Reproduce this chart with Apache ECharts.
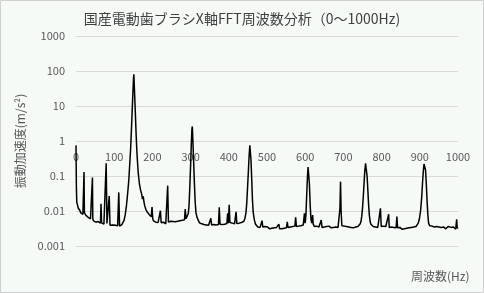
<!DOCTYPE html>
<html><head><meta charset="utf-8">
<script src="https://cdn.jsdelivr.net/npm/echarts@6/dist/echarts.min.js"></script>
<style>html,body{margin:0;padding:0;background:#f5faf7}#c{width:484px;height:293px}</style>
</head><body><div id="c"></div>
<script>
const titleText = '国産電動歯ブラシX軸FFT周波数分析（0～1000Hz)';
const yName = '振動加速度(m/s²)';
const xName = '周波数(Hz)';
const xTicks = [0,100,200,300,400,500,600,700,800,900,1000];
const yTicks = [0.001,0.01,0.1,1,10,100,1000];
const freq = [0,1,2,4,6,8,10,12,14,16,18,20,21,22,24,26,28,30,32,34,36,38,40,42,43,44,46,48,50,52,54,56,58,60,62,64,65.5,67,69,71,73,75,77,79,81,83,85,87,89,91,94,97,100,103,106,109,112,114,117,120,123,126,129,132,135,138,141,143,145,147,149,150.5,151.5,153,155,157,159,161,163,166,169,172,174,176,178,180,183,186,189,192,195,197,199,201,203,206,209,212,215,218,221,223,226,229,232,235,238,240,242,245,248,251,254,257,260,263,266,269,272,275,278,281,284,286,288,291,294,296,298,300,302,303.5,304.5,306,308,310,312,314,317,320,323,326,329,332,335,338,341,344,347,350,353,355,358,361,364,367,370,373,375,377,380,383,386,389,392,395,397,399,401,403,406,409,412,415,417,419,421,424,427,430,433,436,439,442,445,447,449,451,453,455,456,458,460,462,464,467,470,473,476,479,482,485,487,489,492,495,498,501,504,507,510,513,516,519,522,525,528,531,533,536,539,542,545,548,551,553,555,558,561,564,567,570,573,575,577,580,583,586,589,592,595,598,600,602,604,606,607.5,609,611,613,615,617,619.5,621,624,627,630,633,636,639,642,644,647,650,653,656,659,662,665,668,671,674,677,680,683,686,689,691,692.5,694,696,699,702,705,708,711,714,717,720,723,726,729,732,735,738,741,744,746,748,750,752,754,756,758,760,762,764,766,768,770,772,775,778,781,784,787,790,793,795,797,799,802,805,808,811,814,816,818.5,820,823,826,829,832,835,838,840,842,845,848,851,854,857,860,863,866,869,872,875,878,881,884,887,890,893,896,899,902,905,907,909,911,913,915,917,919,921,923,926,929,932,935,938,941,944,947,950,953,956,959,962,965,968,971,974,976,977,979,982,985,988,991,994,996.5,998,1000];
const amp = [0.75,0.05,0.018,0.016,0.012,0.011,0.0105,0.009,0.0095,0.0085,0.008,0.009,0.13,0.009,0.008,0.0075,0.0068,0.0072,0.0066,0.0063,0.0068,0.006,0.0058,0.0062,0.09,0.006,0.0052,0.0055,0.005,0.0048,0.0053,0.0047,0.005,0.0046,0.0048,0.0045,0.016,0.0046,0.0043,0.0047,0.0042,0.0045,0.0041,0.23,0.0044,0.004,0.0042,0.027,0.0039,0.0041,0.0038,0.004,0.0037,0.0039,0.0036,0.0038,0.034,0.0037,0.0039,0.0041,0.0045,0.0055,0.008,0.014,0.03,0.07,0.25,0.6,2,7,25,60,80,30,8,2,0.6,0.25,0.12,0.06,0.04,0.03,0.022,0.026,0.018,0.014,0.011,0.0095,0.0085,0.0078,0.0072,0.0068,0.013,0.006,0.0052,0.0046,0.0048,0.0044,0.0047,0.0043,0.0102,0.0046,0.0044,0.0048,0.0045,0.0043,0.0047,0.053,0.0048,0.0044,0.0051,0.0047,0.005,0.0053,0.0049,0.0054,0.0051,0.0056,0.0053,0.0057,0.0054,0.0058,0.0056,0.0114,0.006,0.0065,0.0085,0.015,0.05,0.2,0.9,2.2,2.6,1.0,0.25,0.06,0.018,0.009,0.0065,0.0055,0.0046,0.0049,0.0043,0.0045,0.0041,0.0043,0.004,0.0042,0.0039,0.0041,0.0062,0.004,0.0038,0.0041,0.0037,0.004,0.0038,0.0041,0.0128,0.0042,0.0039,0.0041,0.0038,0.0042,0.004,0.0044,0.0086,0.0045,0.015,0.0047,0.0042,0.0045,0.0041,0.0043,0.0042,0.0095,0.0044,0.0042,0.0045,0.0043,0.0047,0.0046,0.005,0.006,0.009,0.017,0.045,0.12,0.35,0.75,0.72,0.3,0.08,0.02,0.009,0.0055,0.0042,0.0038,0.0035,0.0037,0.0034,0.0036,0.0053,0.0035,0.0033,0.0036,0.0032,0.0035,0.0033,0.0031,0.0034,0.0032,0.003,0.0033,0.0031,0.0034,0.0032,0.0042,0.0031,0.0033,0.0031,0.0034,0.0032,0.0035,0.0033,0.0049,0.0034,0.0032,0.0035,0.0033,0.0036,0.0034,0.0037,0.0066,0.0036,0.0034,0.0037,0.0035,0.0038,0.0036,0.004,0.0086,0.0045,0.008,0.03,0.1,0.18,0.17,0.06,0.015,0.006,0.0045,0.0077,0.0042,0.0036,0.0034,0.0037,0.0033,0.0035,0.0033,0.0055,0.0034,0.0032,0.0035,0.0033,0.0036,0.0034,0.0037,0.0035,0.0033,0.0036,0.0034,0.0037,0.0035,0.0036,0.0034,0.0038,0.012,0.069,0.01,0.0038,0.0035,0.0037,0.0034,0.0036,0.0039,0.0035,0.0037,0.0034,0.0036,0.0033,0.0037,0.0035,0.0038,0.0036,0.004,0.0043,0.005,0.007,0.012,0.025,0.06,0.14,0.23,0.22,0.1,0.04,0.015,0.0075,0.005,0.0042,0.0038,0.0036,0.0039,0.0035,0.0037,0.0034,0.0036,0.0035,0.012,0.0036,0.0034,0.0037,0.0033,0.0036,0.0034,0.0035,0.0081,0.0034,0.0032,0.0035,0.0031,0.0034,0.0032,0.0033,0.0069,0.0033,0.0031,0.0034,0.0032,0.003,0.0033,0.0031,0.0034,0.0032,0.0035,0.0033,0.0036,0.0034,0.0037,0.0035,0.0038,0.0036,0.004,0.0045,0.006,0.01,0.025,0.06,0.13,0.22,0.23,0.15,0.06,0.02,0.008,0.0045,0.0038,0.0035,0.0037,0.0033,0.0035,0.0032,0.0036,0.0033,0.0035,0.0031,0.0034,0.0032,0.0035,0.0033,0.0031,0.0034,0.0036,0.0033,0.004,0.0032,0.0034,0.0031,0.0035,0.0033,0.003,0.0058,0.0032,0.0034];

const chart = echarts.init(document.getElementById('c'), null, {renderer:'canvas'});
const font = '"Noto Sans CJK JP", "Noto Sans", sans-serif';
chart.setOption({
  backgroundColor: '#f5faf7',
  animation: false,
  textStyle: {fontFamily: font},
  title: {text: titleText, left: 'center', top: 7,
    textStyle: {fontSize: 14, fontWeight: 'normal', color: '#404040', fontFamily: font}},
  grid: {left: 76, right: 26, top: 36, bottom: 47},
  xAxis: {type: 'value', min: xTicks[0], max: xTicks[xTicks.length-1], interval: 100,
    position: 'bottom', offset: -105,
    axisLine: {show: false}, axisTick: {show: false}, splitLine: {show: false},
    axisLabel: {color: '#595959', fontSize: 11, margin: 10, fontFamily: font,
      formatter: v => String(v)}},
  yAxis: {type: 'log', logBase: 10, min: yTicks[0], max: yTicks[yTicks.length-1],
    name: yName, nameLocation: 'middle', nameRotate: 90, nameGap: 46,
    nameTextStyle: {color: '#595959', fontSize: 12, fontFamily: font},
    axisLine: {show: false}, axisTick: {show: false},
    splitLine: {lineStyle: {color: '#d9d9d9', width: 1}},
    axisLabel: {color: '#595959', fontSize: 11, margin: 11, fontFamily: font,
      formatter: v => String(+v.toPrecision(3))}},
  graphic: [
    {type: 'rect', shape: {x: 0.5, y: 0.5, width: 483, height: 292}, style: {fill: null, stroke: '#d0d0d0', lineWidth: 1}, silent: true},
    {type: 'text', left: 411, top: 270, style: {text: xName, fill: '#595959', font: '12px ' + font}}
  ],
  series: [{type: 'line', data: freq.map((f, i) => [f, amp[i]]), showSymbol: false,
    lineStyle: {color: '#000', width: 1.5}, itemStyle: {color: '#000'}}]
});
</script></body></html>
